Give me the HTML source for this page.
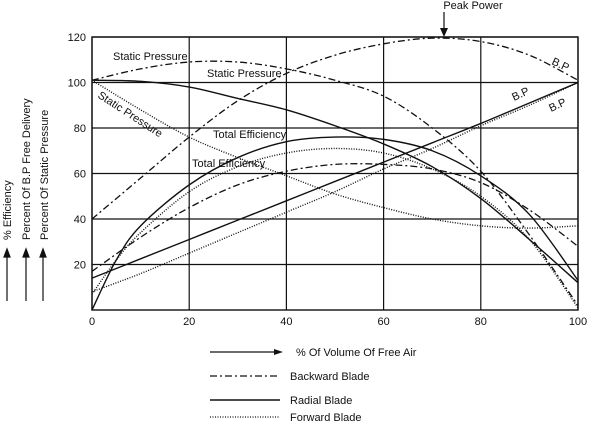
<!DOCTYPE html>
<html><head><meta charset="utf-8"><style>
body{margin:0;background:#fff;}
svg text{font-family:"Liberation Sans",Arial,sans-serif;fill:#111;}
</style></head><body>
<svg id="chart" width="600" height="424" viewBox="0 0 600 424" xmlns="http://www.w3.org/2000/svg">
<text x="473" y="9" font-size="11" text-anchor="middle">Peak Power</text>
<line x1="444" y1="12" x2="444" y2="33" stroke="#111" stroke-width="1.2"/>
<polygon points="440,28 448,28 444,37" fill="#111"/>
<g id="grid"></g>
<g id="series"></g>
<g id="labels" font-size="11">
<text x="113" y="60">Static Pressure</text>
<text x="207" y="77">Static Pressure</text>
<text x="97" y="97" transform="rotate(33 97 97)">Static Pressure</text>
<text x="213" y="138">Total Efficiency</text>
<text x="192" y="167">Total Efficiency</text>
<text x="551" y="64" transform="rotate(25 551 64)">B.P</text>
<text x="514" y="101" transform="rotate(-25 514 101)">B.P</text>
<text x="551" y="112" transform="rotate(-25 551 112)">B.P</text>
</g>
<g font-size="11">
<text transform="translate(11 240) rotate(-90)">% Efficiency</text>
<text transform="translate(30 240) rotate(-90)">Percent Of B.P Free Delivery</text>
<text transform="translate(48 240) rotate(-90)">Percent Of Static Pressure</text>
</g>
<g stroke="#111" stroke-width="1.2" fill="#111">
<line x1="7" y1="252" x2="7" y2="301"/><polygon points="4,257 10,257 7,249"/>
<line x1="26" y1="252" x2="26" y2="301"/><polygon points="23,257 29,257 26,249"/>
<line x1="43" y1="252" x2="43" y2="301"/><polygon points="40,257 46,257 43,249"/>
</g>
<line x1="210" y1="352" x2="278" y2="352" stroke="#111" stroke-width="1.2"/>
<polygon points="274,349 283,352 274,355" fill="#111"/>
<text x="296" y="356" font-size="11">% Of Volume Of Free Air</text>
<g font-size="11">
<line x1="210" y1="376" x2="280" y2="376" stroke="#111" stroke-width="1.3" stroke-dasharray="7,3,2,3"/>
<text x="290" y="380">Backward Blade</text>
<line x1="210" y1="400" x2="280" y2="400" stroke="#111" stroke-width="1.4"/>
<text x="290" y="404">Radial Blade</text>
<line x1="210" y1="417" x2="280" y2="417" stroke="#111" stroke-width="1.3" stroke-dasharray="1,1.5"/>
<text x="290" y="421">Forward Blade</text>
</g>
</svg>
<script>
const xCats = [0,10,20,30,40,50,60,70,80,90,100];
const xCatsEff = [0,5,10,20,30,40,50,60,70,80,90,100];
const xTicks = [0,20,40,60,80,100];
const yTicks = [20,40,60,80,100,120];
const backwardBP = [40,58,76,92,104,112,117,119.5,118,112,101];
const backwardSP = [101,106,109,109,106,101,94,80,61,33,2];
const backwardEff = [17,32,45,55,61,64,64,62,56,44,28];
const radialBP = [14,22.5,31,39.5,48,56.5,65,73.5,82,91,100];
const radialSP = [101,100.5,98,93,88,81,73,63,49,31,12];
const radialEff = [0,22,37,55,67,74,76,75,70,59,42,13];
const forwardBP = [8,16,25,34,43,52,62,71,81,90,100];
const forwardSP = [101,88,76,67,59,51,45,40,37,36,37];
const forwardEff = [7,22,34,52,63,69,71,69,62,50,31,1];

const X0=92,X1=578,Y0=310,Y1=37;
const sx=v=>X0+(X1-X0)*v/100;
const sy=v=>Y0-(Y0-Y1)*v/120;
const NS='http://www.w3.org/2000/svg';
const grid=document.getElementById('grid');
const series=document.getElementById('series');

function mk(tag,attrs,parent){const e=document.createElementNS(NS,tag);for(const k in attrs)e.setAttribute(k,attrs[k]);parent.appendChild(e);return e;}

const frame=mk('rect',{x:X0,y:Y1,width:X1-X0,height:Y0-Y1,fill:'none',stroke:'#111','stroke-width':1.4},grid);


xTicks.forEach(t=>{
  const l=mk('line',{x1:sx(t),x2:sx(t),y1:Y1,y2:Y0,stroke:'#111','stroke-width':1.2},grid);
  
  
  const tx=mk('text',{x:sx(t),y:Y0+15,'font-size':11,'text-anchor':'middle'},grid);
  tx.textContent=t;
  
  
});
yTicks.forEach(t=>{
  const l=mk('line',{x1:X0,x2:X1,y1:sy(t),y2:sy(t),stroke:'#111','stroke-width':1.2},grid);
  
  
  const tx=mk('text',{x:X0-6,y:sy(t)+4,'font-size':11,'text-anchor':'end'},grid);
  tx.textContent=t;
  
  
});

function pathFor(vals,xs){
  const p=vals.map((v,i)=>[sx(xs[i]),sy(v)]);
  let d='M'+p[0][0]+','+p[0][1];
  for(let i=0;i<p.length-1;i++){
    const a=p[i-1]||p[i],b=p[i],c=p[i+1],e=p[i+2]||c;
    const c1=[b[0]+(c[0]-a[0])/6,b[1]+(c[1]-a[1])/6];
    const c2=[c[0]-(e[0]-b[0])/6,c[1]-(e[1]-b[1])/6];
    d+=' C'+c1+' '+c2+' '+c;
  }
  return d;
}
const styles={backward:{dash:'7,3,2,3',w:1.3},radial:{dash:'',w:1.4},forward:{dash:'1,1.5',w:1.4}};
function draw(vals,xs,kind,name){
  const s=styles[kind];
  const el=mk('path',{d:pathFor(vals,xs),fill:'none',stroke:'#111','stroke-width':s.w,'stroke-dasharray':s.dash},series);
  
  
}
draw(backwardBP,xCats,'backward','backward-bp-line');
draw(backwardSP,xCats,'backward','backward-static-pressure-line');
draw(backwardEff,xCats,'backward','backward-efficiency-line');
draw(radialBP,xCats,'radial','radial-bp-line');
draw(radialSP,xCats,'radial','radial-static-pressure-line');
draw(radialEff,xCatsEff,'radial','radial-efficiency-line');
draw(forwardBP,xCats,'forward','forward-bp-line');
draw(forwardSP,xCats,'forward','forward-static-pressure-line');
draw(forwardEff,xCatsEff,'forward','forward-efficiency-line');
</script>
</body></html>
